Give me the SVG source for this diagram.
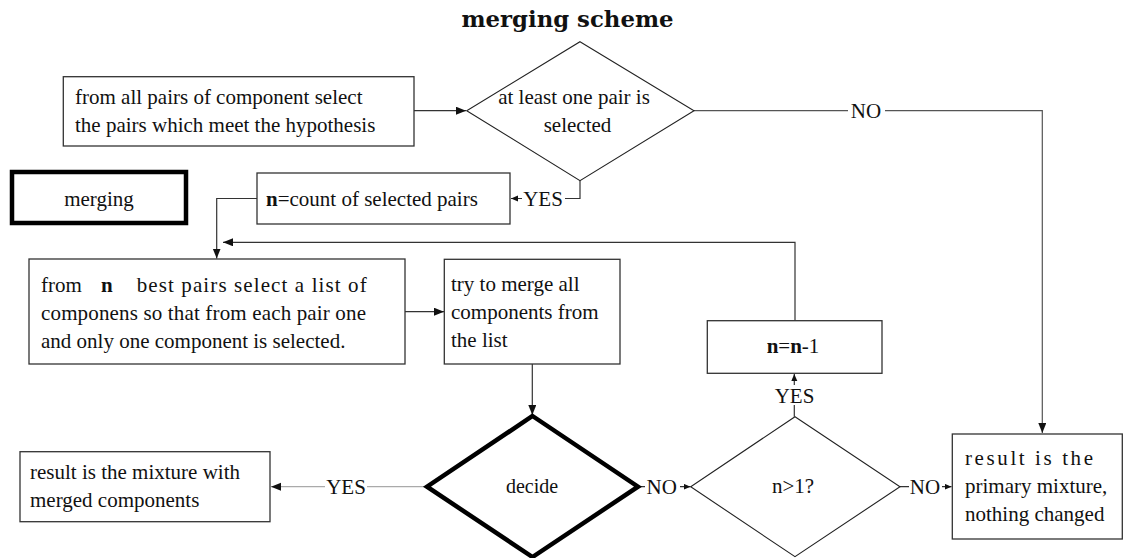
<svg xmlns="http://www.w3.org/2000/svg" width="1125" height="558" viewBox="0 0 1125 558">
<style>
text{font-family:"Liberation Serif","Times New Roman",serif;font-size:21px;fill:#111}
.title{font-family:"DejaVu Serif","Liberation Serif",serif;font-size:22.5px;font-weight:bold}
.box{fill:#fff;stroke:#333;stroke-width:1.3}
.thick{fill:#fff;stroke:#000;stroke-width:4.5}
.dia{fill:#fff;stroke:#222;stroke-width:1.1}
.ln{fill:none;stroke:#333;stroke-width:1.2}
.lg{fill:none;stroke:#aaa;stroke-width:1.2}
.lbg{fill:#fff;stroke:none}
.c{text-anchor:middle}
.b{font-weight:bold}
</style>
<defs>
<marker id="arr" markerUnits="userSpaceOnUse" markerWidth="11" markerHeight="9" refX="10" refY="4" orient="auto"><path d="M0,0 L10,4 L0,8 z" fill="#111"/></marker>
<marker id="arrs" markerUnits="userSpaceOnUse" markerWidth="8" markerHeight="7" refX="7" refY="3" orient="auto"><path d="M0,0 L7,3 L0,6 z" fill="#111"/></marker>
</defs>
<text x="567.5" y="27" class="c title" textLength="212" lengthAdjust="spacingAndGlyphs">merging scheme</text>
<g id="connectors">
<path class="ln" d="M414,110.7 H466" marker-end="url(#arr)"/>
<path class="ln" d="M580,181 V198.5 H511" marker-end="url(#arrs)"/>
<rect class="lbg" x="522" y="188" width="43" height="20"/>
<text x="543" y="205.5" class="c">YES</text>
<path class="ln" style="stroke:#555" d="M694,110.7 H1042.3 V433" marker-end="url(#arr)"/>
<rect class="lbg" x="848" y="100" width="37" height="20"/>
<text x="866" y="118" class="c">NO</text>
<path class="ln" d="M257,198.5 H216.7 V258.5" marker-end="url(#arr)"/>
<path class="ln" d="M795,320.7 V242.3 H223" marker-end="url(#arr)"/>
<path class="ln" d="M405,311.7 H444" marker-end="url(#arr)"/>
<path class="ln" d="M532.3,364 V415" marker-end="url(#arr)"/>
<path class="lg" d="M427,486.7 H271" marker-end="url(#arr)"/>
<rect class="lbg" x="325" y="476" width="42" height="20"/>
<text x="346" y="494" class="c">YES</text>
<path class="ln" d="M638,486.7 H690.5" marker-end="url(#arrs)"/>
<rect class="lbg" x="645" y="476" width="35" height="20"/>
<text x="661.7" y="494" class="c">NO</text>
<path class="ln" d="M900,486.7 H951.5" marker-end="url(#arrs)"/>
<rect class="lbg" x="909" y="476" width="33" height="20"/>
<text x="925" y="494" class="c">NO</text>
<path class="ln" d="M794.3,416.7 V374" marker-end="url(#arrs)"/>
<rect class="lbg" x="775" y="385" width="40" height="20"/>
<text x="794.5" y="402.5" class="c">YES</text>
</g>
<g id="select-pairs">
<rect class="box" x="63.3" y="76.7" width="350.7" height="69.3"/>
<text x="75" y="104">from all pairs of component select</text>
<text x="75" y="132">the pairs which meet the hypothesis</text>
</g>
<g id="at-least-one">
<polygon class="dia" points="580,41.7 694,110.7 580,180.7 466.7,110.7"/>
<text x="574" y="104" class="c">at least one pair is</text>
<text x="577.5" y="131.5" class="c">selected</text>
</g>
<g id="merging">
<rect class="thick" x="12" y="172" width="174" height="51"/>
<text x="99" y="205.7" class="c">merging</text>
</g>
<g id="count">
<rect class="box" x="257" y="173" width="253" height="51"/>
<text x="266" y="205.7"><tspan class="b">n</tspan>=count of selected pairs</text>
</g>
<g id="select-list">
<rect class="box" x="29" y="259" width="376" height="105"/>
<text x="41" y="291.7">from</text>
<text x="101" y="291.7" class="b">n</text>
<text x="136.7" y="291.7" textLength="230" lengthAdjust="spacing">best pairs select a list of</text>
<text x="41" y="320" textLength="325" lengthAdjust="spacing">componens so that from each pair one</text>
<text x="41" y="348.3">and only one component is selected.</text>
</g>
<g id="try-merge">
<rect class="box" x="444.3" y="259.3" width="175.7" height="104.7"/>
<text x="451" y="291">try to merge all</text>
<text x="451" y="319">components from</text>
<text x="451" y="346.7">the list</text>
</g>
<g id="decrement">
<rect class="box" x="707.3" y="320.7" width="174.7" height="52.6"/>
<text x="793" y="353.3" class="c"><tspan class="b">n</tspan>=<tspan class="b">n</tspan>-1</text>
</g>
<g id="decide">
<polygon class="thick" points="532.5,416 638,486.7 532.5,557 427,486.7"/>
<text x="532" y="493" class="c" style="font-size:20px">decide</text>
</g>
<g id="n-gt-1">
<polygon class="dia" points="795,416.7 900,486.7 795,556.7 690.7,486.7"/>
<text x="793" y="493" class="c">n&gt;1?</text>
</g>
<g id="result-merged">
<rect class="box" x="20" y="451.7" width="250" height="70"/>
<text x="30" y="479.3">result is the mixture with</text>
<text x="30" y="507.3">merged components</text>
</g>
<g id="result-primary">
<rect class="box" x="952.3" y="434" width="170" height="105"/>
<text x="965" y="465" textLength="128" lengthAdjust="spacing">result is the</text>
<text x="965" y="493.3">primary mixture,</text>
<text x="965" y="520.7">nothing changed</text>
</g>
</svg>
